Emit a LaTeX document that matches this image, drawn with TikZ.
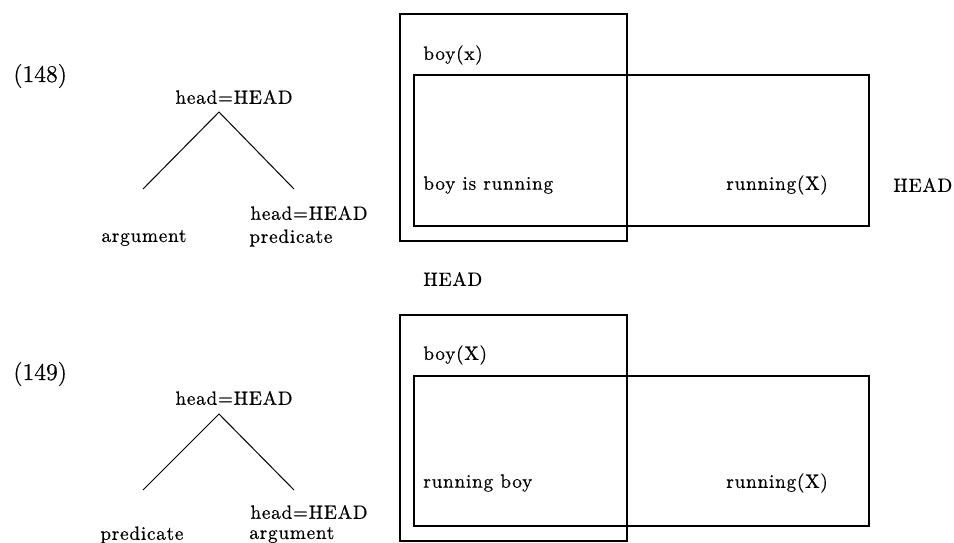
\documentclass[tikz,border=0pt]{standalone}
\usepackage{fontspec}
\newfontfamily\labfont{Latin Modern Roman}[LetterSpace=4,FakeBold=0.6]
\newfontfamily\numfont{Latin Modern Roman}[FakeBold=0.6]
\begin{document}
\begin{tikzpicture}[x=0.5pt,y=-0.5pt,
  lbl/.style={inner sep=0pt,font=\labfont\fontsize{9.6}{12}\selectfont},
  exnum/.style={inner sep=0pt,font=\numfont\fontsize{12}{14}\selectfont},
  branch/.style={line width=0.5pt},
  drsbox/.style={line width=1.1pt}]
\useasboundingbox (0,0) rectangle (954,542);

% ---------- (148) ----------
\node[exnum,anchor=west] (n148) at (13,76) {(148)};
\node[lbl] (h148) at (234,97) {head=HEAD};
\coordinate (a148) at (219,112);
\coordinate (l148) at (143,189);
\coordinate (r148) at (294,189);
\draw[branch] (l148) -- (a148) -- (r148);
\node[lbl] (hh148) at (309,213) {head=HEAD};
\node[lbl,anchor=west] (p148) at (249,238) {predicate};
\node[lbl] (g148) at (144,238) {argument};

\draw[drsbox] (400,14) rectangle (627,241);
\draw[drsbox] (414,75) rectangle (869,226);
\node[lbl,anchor=west] (b148) at (423,55) {boy(x)};
\node[lbl,anchor=west] (s148) at (423,185) {boy is running};
\node[lbl,anchor=west] (r148t) at (726,185) {running(X)};
\node[lbl,anchor=west] (hr148) at (893,185) {HEAD};
\node[lbl,anchor=west] (hb148) at (423,279) {HEAD};

% ---------- (149) ----------
\node[exnum,anchor=west] (n149) at (13,374) {(149)};
\node[lbl] (h149) at (234,398) {head=HEAD};
\coordinate (a149) at (219,414);
\coordinate (l149) at (143,490);
\coordinate (r149) at (294,490);
\draw[branch] (l149) -- (a149) -- (r149);
\node[lbl] (hh149) at (309,512) {head=HEAD};
\node[lbl,anchor=west] (p149) at (100,535) {predicate};
\node[lbl,anchor=west] (g149) at (249,535) {argument};

\draw[drsbox] (400,315) rectangle (627,541);
\draw[drsbox] (414,376) rectangle (869,526);
\node[lbl,anchor=west] (b149) at (423,355) {boy(X)};
\node[lbl,anchor=west] (s149) at (423,483) {running boy};
\node[lbl,anchor=west] (r149t) at (726,483) {running(X)};
\end{tikzpicture}
\end{document}
